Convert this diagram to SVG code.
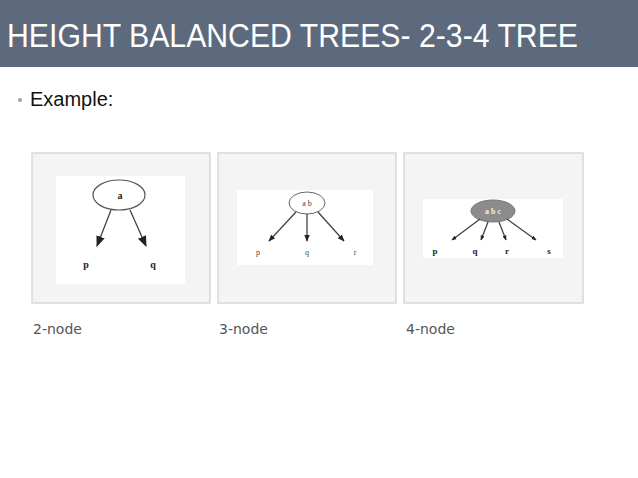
<svg xmlns="http://www.w3.org/2000/svg" width="638" height="478" viewBox="0 0 638 478">
<defs>
<style>
.panel{fill:#f4f4f4;stroke:#d8d8d8;stroke-width:1.5}
.inner{fill:#ffffff}
.edge{stroke:#444;stroke-width:1.3;fill:none}
.lbl{font-family:"Liberation Serif",serif;font-weight:bold;fill:#222;text-anchor:middle}
.cap{font-family:"DejaVu Sans","Liberation Sans",sans-serif;font-size:14px;fill:#555}
</style>
<marker id="ah" viewBox="0 0 10 10" refX="9" refY="5" markerWidth="5" markerHeight="5" orient="auto" markerUnits="userSpaceOnUse">
<path d="M0,1 L10,5 L0,9 z" fill="#222"/>
</marker>
<marker id="ah1" viewBox="0 0 10 10" refX="9" refY="5" markerWidth="11" markerHeight="11" orient="auto" markerUnits="userSpaceOnUse">
<path d="M0,1 L10,5 L0,9 z" fill="#222"/>
</marker>
<marker id="ah2" viewBox="0 0 10 10" refX="9" refY="5" markerWidth="7" markerHeight="7" orient="auto" markerUnits="userSpaceOnUse">
<path d="M0,1 L10,5 L0,9 z" fill="#222"/>
</marker>
</defs>
<rect x="0" y="0" width="638" height="478" fill="#ffffff"/>
<g id="header">
<rect x="0" y="0" width="638" height="67" fill="#5d697c"/>
<text x="7" y="47" font-family="Liberation Sans, Arial, sans-serif" font-size="33" fill="#ffffff" textLength="571" lengthAdjust="spacingAndGlyphs">HEIGHT BALANCED TREES- 2-3-4 TREE</text>
</g>
<g id="bullet">
<circle cx="20" cy="100" r="2" fill="#9aa5a5"/>
<text x="30" y="106" font-family="Liberation Sans, Arial, sans-serif" font-size="20" fill="#111">Example:</text>
</g>
<g id="panel-2node">
<rect class="panel" x="32" y="153" width="178" height="150"/>
<rect class="inner" x="56" y="176" width="129" height="108"/>
<ellipse cx="119" cy="195" rx="26" ry="15" fill="#fff" stroke="#555" stroke-width="1.2"/>
<text class="lbl" x="120" y="199" font-size="10">a</text>
<text class="lbl" x="86" y="268" font-size="10">p</text>
<text class="lbl" x="153" y="268" font-size="10">q</text>
</g>
<g id="panel-3node">
<rect class="panel" x="218" y="153" width="178" height="150"/>
<rect class="inner" x="237" y="190" width="136" height="75"/>
<ellipse cx="307" cy="203" rx="18" ry="11" fill="#fff" stroke="#666" stroke-width="1"/>
<text x="307" y="206" font-family="Liberation Serif,serif" font-size="8" fill="#444" text-anchor="middle">a b</text>
<text x="258" y="255" font-family="Liberation Serif,serif" font-size="8" fill="#444" text-anchor="middle">p</text>
<text x="307" y="255" font-family="Liberation Serif,serif" font-size="8" fill="#444" text-anchor="middle">q</text>
<text x="355" y="255" font-family="Liberation Serif,serif" font-size="8" fill="#444" text-anchor="middle">r</text>
</g>
<g id="panel-4node">
<rect class="panel" x="404" y="153" width="179" height="150"/>
<rect class="inner" x="423" y="199" width="140" height="59"/>
<ellipse cx="493" cy="211" rx="22" ry="11" fill="#8c8c8c" stroke="#777" stroke-width="1"/>
<text x="493" y="214" font-family="Liberation Serif,serif" font-size="8" font-weight="bold" fill="#eee" text-anchor="middle">a b c</text>
<text class="lbl" x="435" y="254" font-size="9">p</text>
<text class="lbl" x="475" y="254" font-size="9">q</text>
<text class="lbl" x="507" y="254" font-size="9">r</text>
<text class="lbl" x="549" y="254" font-size="9">s</text>
</g>
<g id="connectors">
<line class="edge" x1="111" y1="210" x2="97" y2="246" marker-end="url(#ah1)"/>
<line class="edge" x1="130" y1="210" x2="146" y2="246" marker-end="url(#ah1)"/>
<line class="edge" x1="296" y1="212" x2="269" y2="241" stroke-width="1" marker-end="url(#ah2)"/>
<line class="edge" x1="307" y1="214" x2="307" y2="241" stroke-width="1" marker-end="url(#ah2)"/>
<line class="edge" x1="318" y1="212" x2="344" y2="241" stroke-width="1" marker-end="url(#ah2)"/>
<line class="edge" x1="480" y1="219" x2="452" y2="240" stroke="#777" stroke-width="1.2" marker-end="url(#ah)"/>
<line class="edge" x1="488" y1="222" x2="481" y2="240" stroke="#777" stroke-width="1.2" marker-end="url(#ah)"/>
<line class="edge" x1="499" y1="222" x2="506" y2="240" stroke="#777" stroke-width="1.2" marker-end="url(#ah)"/>
<line class="edge" x1="507" y1="219" x2="536" y2="240" stroke="#777" stroke-width="1.2" marker-end="url(#ah)"/>
</g>
<g id="captions">
<text class="cap" x="33" y="334">2-node</text>
<text class="cap" x="219" y="334">3-node</text>
<text class="cap" x="406" y="334">4-node</text>
</g>
</svg>
